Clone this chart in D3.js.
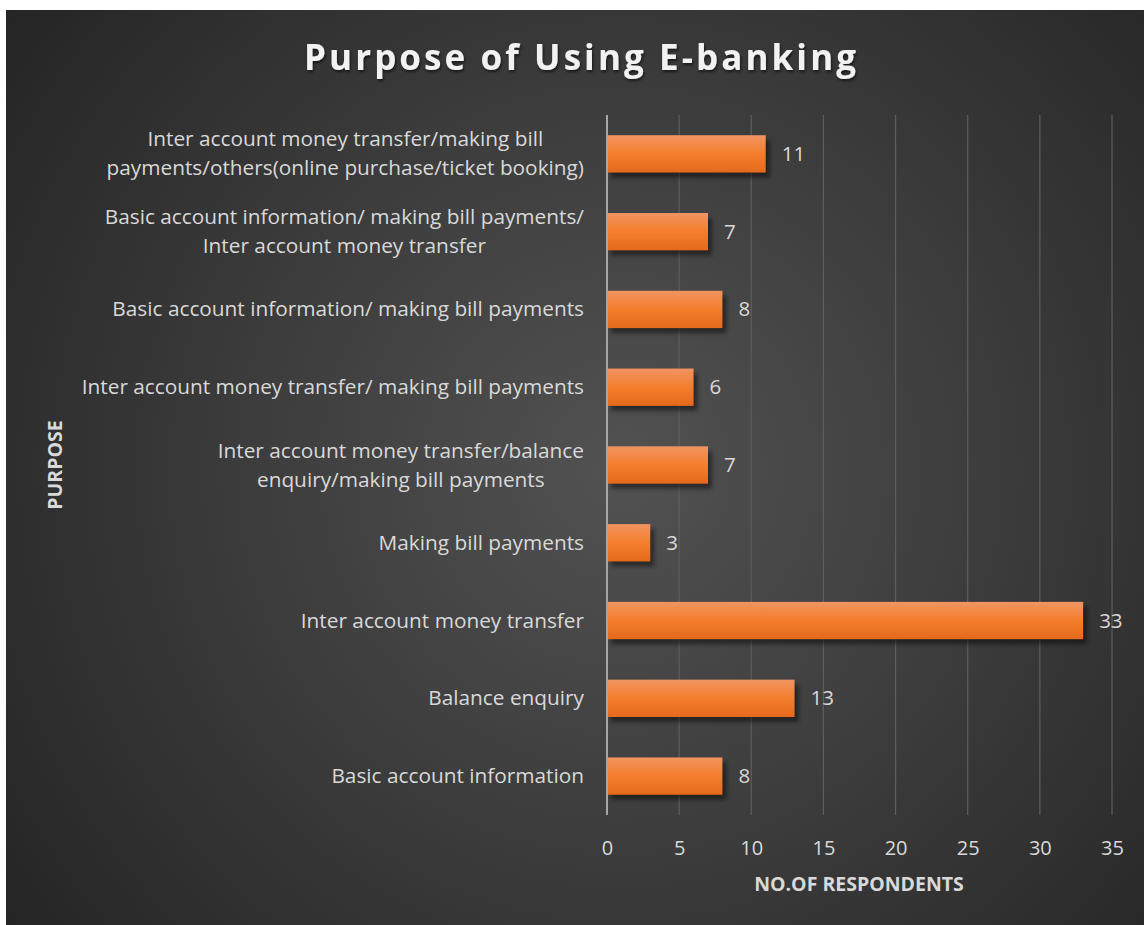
<!DOCTYPE html>
<html>
<head>
<meta charset="utf-8">
<script src="https://cdn.jsdelivr.net/npm/d3@7/dist/d3.min.js"></script>
<style>
  html, body { margin: 0; padding: 0; background: #ffffff; }
  svg { display: block; }
  text { font-family: "Open Sans", "DejaVu Sans", sans-serif; }
</style>
</head>
<body>
<svg id="chart" width="1144" height="925"></svg>
<script>
// Survey responses: purpose of using e-banking (top to bottom)
const categories = [
  "Inter account money transfer/making bill\npayments/others(online purchase/ticket booking)",
  "Basic account information/ making bill payments/\nInter account money transfer",
  "Basic account information/ making bill payments",
  "Inter account money transfer/ making bill payments",
  "Inter account money transfer/balance\nenquiry/making bill payments",
  "Making bill payments",
  "Inter account money transfer",
  "Balance enquiry",
  "Basic account information"
];
const respondents = [11, 7, 8, 6, 7, 3, 33, 13, 8];
const xTicks = [0, 5, 10, 15, 20, 25, 30, 35];

const titleText = "Purpose of Using E-banking";
const xTitle = "NO.OF RESPONDENTS";
const yTitle = "PURPOSE";

const svg = d3.select("#chart");
const defs = svg.append("defs");

// Dark radial backdrop
const bg = defs.append("radialGradient").attr("id", "bgGrad")
  .attr("gradientUnits", "userSpaceOnUse")
  .attr("cx", 620).attr("cy", 470).attr("r", 760);
bg.append("stop").attr("offset", "0").attr("stop-color", "#525252");
bg.append("stop").attr("offset", "0.45").attr("stop-color", "#3e3e3e");
bg.append("stop").attr("offset", "1").attr("stop-color", "#252525");

// Orange bar fill, lighter at the top edge
const barGrad = defs.append("linearGradient").attr("id", "barGrad")
  .attr("x1", 0).attr("y1", 0).attr("x2", 0).attr("y2", 1);
barGrad.append("stop").attr("offset", "0").attr("stop-color", "#f29462");
barGrad.append("stop").attr("offset", "0.5").attr("stop-color", "#f47e2c");
barGrad.append("stop").attr("offset", "1").attr("stop-color", "#e5691b");

const shadow = defs.append("filter").attr("id", "barShadow")
  .attr("x", "-10%").attr("y", "-30%").attr("width", "130%").attr("height", "180%");
shadow.append("feGaussianBlur").attr("stdDeviation", 2);

const titleShadow = defs.append("filter").attr("id", "titleShadow")
  .attr("x", "-5%").attr("y", "-30%").attr("width", "110%").attr("height", "160%");
titleShadow.append("feDropShadow").attr("dx", 1).attr("dy", 2)
  .attr("stdDeviation", 1.5).attr("flood-color", "#000").attr("flood-opacity", 0.6);

svg.append("rect").attr("x", 6).attr("y", 10).attr("width", 1138).attr("height", 915)
  .attr("fill", "url(#bgGrad)");

// Scales
const x = d3.scaleLinear().domain([0, 35]).range([607, 1112]);
const y = d3.scaleBand().domain(categories).range([115, 815])
  .paddingInner(0.52).paddingOuter(0.26);

// Vertical gridlines
svg.append("g").selectAll("line").data(xTicks.filter(t => t > 0)).join("line")
  .attr("x1", d => x(d)).attr("x2", d => x(d))
  .attr("y1", 115).attr("y2", 815)
  .attr("stroke", "#5e5e5e").attr("stroke-width", 1.2);

// Bar shadows
svg.append("g").selectAll("rect").data(respondents).join("rect")
  .attr("x", x(0) + 4)
  .attr("y", (d, i) => y(categories[i]) + 5)
  .attr("width", d => x(d) - x(0))
  .attr("height", y.bandwidth())
  .attr("fill", "#000").attr("opacity", 0.45)
  .attr("filter", "url(#barShadow)");

// Bars
svg.append("g").selectAll("rect").data(respondents).join("rect")
  .attr("x", x(0))
  .attr("y", (d, i) => y(categories[i]))
  .attr("width", d => x(d) - x(0))
  .attr("height", y.bandwidth())
  .attr("fill", "url(#barGrad)");

// Category axis line
svg.append("line").attr("x1", x(0)).attr("x2", x(0)).attr("y1", 115).attr("y2", 815)
  .attr("stroke", "#a6a6a6").attr("stroke-width", 2);

// Value labels
svg.append("g").selectAll("text").data(respondents).join("text")
  .attr("x", d => x(d) + 16)
  .attr("y", (d, i) => y(categories[i]) + y.bandwidth() / 2 + 7)
  .attr("fill", "#d9d9d9").attr("font-size", 20.5)
  .text(d => d);

// X axis tick labels
const xAxis = svg.append("g").attr("transform", "translate(0,855)")
  .call(d3.axisBottom(x).tickValues(xTicks).tickSize(0).tickPadding(0));
xAxis.select(".domain").remove();
xAxis.selectAll("text")
  .attr("dy", 0).attr("y", 0)
  .attr("fill", "#d9d9d9").attr("font-size", 20)
  .attr("font-family", "'Open Sans', sans-serif");

// Category labels: wrapped lines centred on a right-aligned block
const catG = svg.append("g");
const labelRight = 584;
const lineH = 29;
categories.forEach(c => {
  const lines = c.split("\n");
  const cy = y(c) + y.bandwidth() / 2;
  const g = catG.append("g");
  const texts = lines.map((ln, j) => g.append("text")
    .attr("y", cy + 7 + (j - (lines.length - 1) / 2) * lineH)
    .attr("fill", "#d9d9d9").attr("font-size", 20.8)
    .attr("text-anchor", "middle")
    .text(ln));
  const maxW = d3.max(texts, t => t.node().getComputedTextLength());
  texts.forEach(t => t.attr("x", labelRight - maxW / 2));
});

// Axis titles
svg.append("text").attr("x", 859).attr("y", 891)
  .attr("text-anchor", "middle").attr("font-weight", "bold")
  .attr("font-size", 19.5).attr("fill", "#d9d9d9").text(xTitle);

svg.append("text")
  .attr("transform", "translate(62,465) rotate(-90)")
  .attr("text-anchor", "middle").attr("font-weight", "bold")
  .attr("font-size", 19.5).attr("fill", "#d9d9d9").text(yTitle);

// Chart title
svg.append("text").attr("x", 304).attr("y", 70)
  .attr("font-weight", "bold").attr("font-size", 35)
  .attr("fill", "#f2f2f2")
  .attr("textLength", 552).attr("lengthAdjust", "spacing")
  .attr("filter", "url(#titleShadow)")
  .text(titleText);
</script>
</body>
</html>
